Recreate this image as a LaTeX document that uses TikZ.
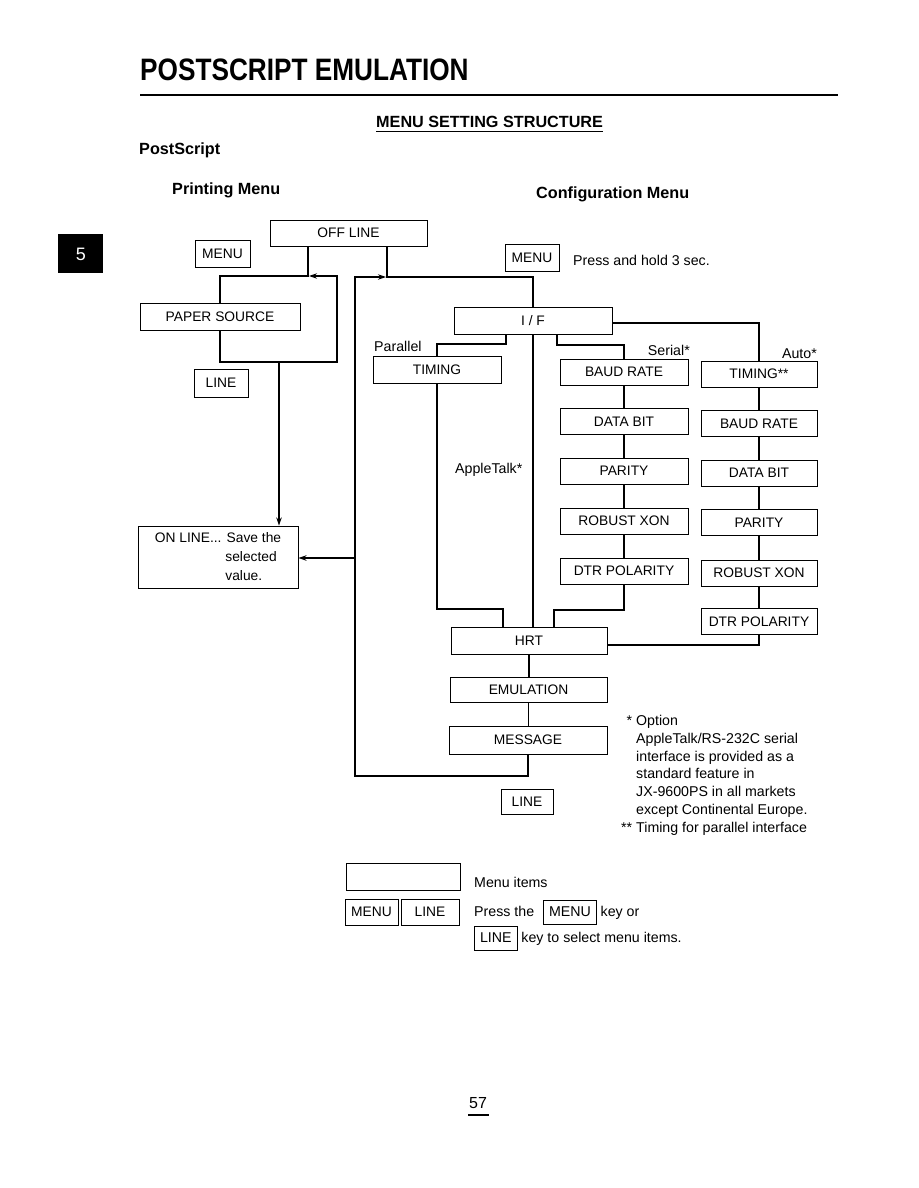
\documentclass[tikz,border=0pt]{standalone}
\usepackage{fontspec}
\setmainfont{Liberation Sans}
\usepackage{graphicx}
\usetikzlibrary{arrows.meta,positioning,calc}
\newcommand{\boxfont}{\fontsize{13.8}{16}\selectfont}
\newcommand{\txtfont}{\fontsize{14.2}{17.7}\selectfont}
\newcommand{\hdfont}{\fontsize{16.2}{19}\selectfont\bfseries}
\newcommand{\keybox}[1]{{\setlength{\fboxsep}{2.6pt}\setlength{\fboxrule}{0.9pt}\fbox{\strut\,#1\,}}}
\tikzset{
  menubox/.style={draw, line width=0.9pt, minimum height=26pt, inner sep=0pt, font=\boxfont},
  wire/.style={line width=1.7pt},
  warr/.style={-{Stealth[length=2.8mm,width=1.9mm]}, line width=1.7pt},
  lbl/.style={inner sep=0pt, font=\txtfont},
  hd/.style={inner sep=0pt, font=\hdfont},
}

\begin{document}
\begin{tikzpicture}[x=1pt, y=-1pt]
  \useasboundingbox (0,0) rectangle (918,1188);
  % page head
  \node[anchor=base west, inner sep=0pt] (title) at (140,81)
    {\scalebox{0.845}[1]{\fontsize{31}{36}\selectfont\bfseries POSTSCRIPT EMULATION}};
  \draw[line width=1.5pt] (140,95) -- (838,95);
  \node[hd, anchor=base west] (mss) at (376,128) {MENU SETTING STRUCTURE};
  \draw[line width=1pt] ([yshift=-3.5pt]mss.base west) -- ([yshift=-3.5pt]mss.base east);
  \node[hd, anchor=base west] (ps) at (139,154) {PostScript};
  \node[hd, anchor=base west] (pm) at (172,194) {Printing Menu};
  \node[hd, anchor=base west] (cm) at (536,198) {Configuration Menu};
  \fill (58,234) rectangle (103,273);
  \node[text=white, font=\fontsize{18}{20}\selectfont] (tab) at (81,254) {5};

  % printing menu
  \node[menubox, minimum width=157pt] (offline) at (348.5,233) {OFF LINE};
  \node[menubox, minimum width=55pt, minimum height=27pt] (menua) at (222.5,253.5) {MENU};
  \node[menubox, minimum width=160pt, minimum height=27pt] (paper) at (220,316.5) {PAPER SOURCE};
  \node[menubox, minimum width=54pt, minimum height=28pt] (linea) at (221,383) {LINE};
  \node[menubox, minimum width=160pt, minimum height=62pt, align=left,
        font=\fontsize{13.8}{19}\selectfont] (online) at (218,557)
    {ON LINE... Save the\\\hphantom{ON LINE...\ }selected\\\hphantom{ON LINE...\ }value.};

  % configuration menu
  \node[menubox, minimum width=54pt, minimum height=27pt] (menub) at (532,257.5) {MENU};
  \node[lbl, anchor=base west] (hold) at (573,265) {Press and hold 3 sec.};
  \node[menubox, minimum width=158pt, minimum height=27pt] (iface) at (533,320.5) {I / F};
  \node[menubox, minimum width=128pt, minimum height=27pt] (timp) at (437,369.5) {TIMING};
  \node[lbl, anchor=base west] (par) at (374,351) {Parallel};
  \node[lbl, anchor=base east] (ser) at (690,355) {Serial*};
  \node[lbl, anchor=base east] (aut) at (817,358) {Auto*};
  \node[lbl, anchor=base west] (apt) at (455,473) {AppleTalk*};

  \node[menubox, minimum width=128pt] (sbaud) at (624,372) {BAUD RATE};
  \node[menubox, minimum width=128pt] (sdata) at (624,421.5) {DATA BIT};
  \node[menubox, minimum width=128pt] (spar) at (624,471) {PARITY};
  \node[menubox, minimum width=128pt] (srob) at (624,521) {ROBUST XON};
  \node[menubox, minimum width=128pt] (sdtr) at (624,571) {DTR POLARITY};

  \node[menubox, minimum width=116pt] (atim) at (759,374) {TIMING**};
  \node[menubox, minimum width=116pt] (abaud) at (759,423.5) {BAUD RATE};
  \node[menubox, minimum width=116pt] (adata) at (759,473) {DATA BIT};
  \node[menubox, minimum width=116pt] (apar) at (759,522.5) {PARITY};
  \node[menubox, minimum width=116pt] (arob) at (759,573) {ROBUST XON};
  \node[menubox, minimum width=116pt] (adtr) at (759,621.5) {DTR POLARITY};

  \node[menubox, minimum width=156pt, minimum height=27pt] (hrt) at (529,640.5) {HRT};
  \node[menubox, minimum width=157pt, minimum height=25pt] (emul) at (528.5,690) {EMULATION};
  \node[menubox, minimum width=158pt, minimum height=28pt] (msg) at (528,740) {MESSAGE};
  \node[menubox, minimum width=52pt, minimum height=25pt] (lineb) at (527,801.5) {LINE};

  \node[lbl, anchor=base west, align=left] (note) at (636,832)
    {\llap{* }Option\\AppleTalk/RS-232C serial\\interface is provided as a\\standard feature in\\
     JX-9600PS in all markets\\except Continental Europe.\\\llap{** }Timing for parallel interface};

  % junctions
  \coordinate (ja) at (308,276);
  \coordinate (lpa) at (337,362);
  \coordinate (lpb) at (279,362);
  \coordinate (jb) at (387,277);
  \coordinate (rta) at (355,558);
  \coordinate (rtb) at (355,776);
  \coordinate (pa) at (506,344);
  \coordinate (pb) at (503,609);
  \coordinate (sa) at (557,345);
  \coordinate (sb) at (554,610);

  \draw[wire] (offline.south -| ja) -- (ja) -| (paper.north);
  \draw[warr, shorten >=1pt] (paper.south) |- (lpa) |- (ja);
  \draw[warr] (lpb) -- (lpb |- online.north);
  \draw[wire] (offline.south -| jb) -- (jb) -| (iface.north);
  \draw[warr, shorten >=1pt] (msg.south) |- (rtb) |- (jb);
  \draw[warr] (rta) -- (rta -| online.east);

  \draw[wire] (iface.south -| pa) -- (pa) -| (timp.north);
  \draw[wire] (timp.south) |- (pb) -- (pb |- hrt.north);
  \draw[wire] (iface.south) -- (iface.south |- hrt.north);
  \draw[wire] (iface.south -| sa) -- (sa) -| (sbaud.north);
  \foreach \a/\b in {sbaud/sdata, sdata/spar, spar/srob, srob/sdtr,
                     atim/abaud, abaud/adata, adata/apar, apar/arob, arob/adtr}
    \draw[wire] (\a.south) -- (\b.north);
  \draw[wire] (sdtr.south) |- (sb) -- (sb |- hrt.north);
  \draw[wire] ([yshift=-2.5pt]iface.east) -| (atim.north);
  \draw[wire] (adtr.south) |- ([yshift=-4.5pt]hrt.east);
  \draw[wire] (hrt.south) -- (hrt.south |- emul.north);
  \draw[wire] (emul.south) -- (emul.south |- msg.north);

  % legend
  \node[menubox, minimum width=114pt, minimum height=27pt] (legbox) at (403,876.5) {};
  \node[menubox, minimum width=53pt] (legmenu) at (371.5,912) {MENU};
  \node[menubox, minimum width=58pt] (legline) at (430,912) {LINE};
  \node[lbl, anchor=base west] (legitems) at (474,887) {Menu items};
  \node[lbl, anchor=base west, align=left] (legkeys) at (474,942)
    {Press the\hspace{9pt}\keybox{MENU} key or\\\keybox{LINE} key to select menu items.};

  \node[inner sep=0pt, anchor=base, font=\fontsize{16}{19}\selectfont] (pg) at (478,1108) {57};
  \draw[line width=1.2pt] (468,1115) -- (489,1115);
\end{tikzpicture}
\end{document}
